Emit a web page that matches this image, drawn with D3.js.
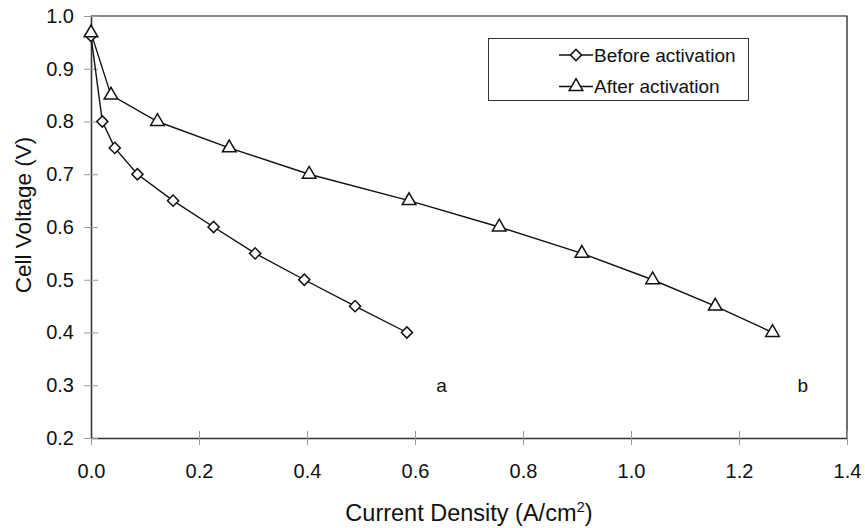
<!DOCTYPE html>
<html lang="en">
<head>
  <script src="https://d3js.org/d3.v7.min.js"></script>
  <style>
    body { margin: 0; background: #fff; }
    text { font-family: "Liberation Sans", Arial, sans-serif; fill: #111; }
  </style>
</head>
<body>
  <script>
    // data
    const beforeX = [0.0, 0.021, 0.044, 0.086, 0.152, 0.227, 0.304, 0.395, 0.489, 0.585];
    const beforeV = [0.962, 0.80, 0.75, 0.70, 0.65, 0.60, 0.55, 0.50, 0.45, 0.40];
    const afterX = [0.0, 0.037, 0.123, 0.256, 0.404, 0.589, 0.756, 0.909, 1.040, 1.156, 1.262];
    const afterV = [0.968, 0.85, 0.80, 0.75, 0.70, 0.65, 0.60, 0.55, 0.50, 0.45, 0.40];
    const xTicks = [0, 0.2, 0.4, 0.6, 0.8, 1.0, 1.2, 1.4];
    const yTicks = [0.2, 0.3, 0.4, 0.5, 0.6, 0.7, 0.8, 0.9, 1.0];
    const seriesNames = ["Before activation", "After activation"];
    const curveLabels = [{t: "a", x: 0.649, v: 0.30}, {t: "b", x: 1.318, v: 0.30}];

    const W = 865, H = 528;
    const pLeft = 91, pRight = 847, pTop = 16, pBottom = 438;

    const x = d3.scaleLinear().domain([0, 1.4]).range([pLeft, pRight]);
    const y = d3.scaleLinear().domain([0.2, 1.0]).range([pBottom, pTop]);

    const svg = d3.select("body").append("svg")
      .attr("width", W).attr("height", H);

    // frame top/right
    svg.append("path")
      .attr("d", `M${pLeft},${pTop}H${pRight}V${pBottom}`)
      .attr("fill", "none").attr("stroke", "#111").attr("stroke-width", 1.2);

    // x axis
    const gx = svg.append("g").attr("transform", `translate(0,${pBottom})`)
      .call(d3.axisBottom(x).tickValues(xTicks).tickFormat(d3.format(".1f"))
        .tickSizeInner(7).tickSizeOuter(0).tickPadding(19));
    gx.select(".domain").attr("stroke", "#333").attr("stroke-width", 1.6);
    gx.selectAll(".tick line").attr("stroke", "#999").attr("y1", -7);
    gx.selectAll(".tick text").attr("font-size", 20).attr("font-family", "Liberation Sans");

    // y axis
    const gy = svg.append("g").attr("transform", `translate(${pLeft},0)`)
      .call(d3.axisLeft(y).tickValues(yTicks).tickFormat(d3.format(".1f"))
        .tickSizeInner(7).tickSizeOuter(0).tickPadding(10));
    gy.select(".domain").attr("stroke", "#333").attr("stroke-width", 1.6);
    gy.selectAll(".tick line").attr("stroke", "#999").attr("x1", 7);
    gy.selectAll(".tick text").attr("font-size", 20).attr("font-family", "Liberation Sans");

    // axis titles
    const xt = svg.append("text").attr("x", (pLeft + pRight) / 2).attr("y", 521)
      .attr("text-anchor", "middle").attr("font-size", 23.5);
    xt.append("tspan").text("Current Density (A/cm");
    xt.append("tspan").text("2").attr("font-size", 15).attr("dy", -9);
    xt.append("tspan").text(")").attr("dy", 9);

    svg.append("text")
      .attr("transform", `translate(31,${(pTop + pBottom) / 2 - 12}) rotate(-90)`)
      .attr("text-anchor", "middle").attr("font-size", 22.5)
      .text("Cell Voltage (V)");

    const line = d3.line().x(d => x(d[0])).y(d => y(d[1]));
    const diamond = d3.symbol().type(d3.symbolSquare).size(62);
    const tri = d3.symbol().type(d3.symbolTriangle).size(80);

    const before = beforeX.map((d, i) => [d, beforeV[i]]);
    const after = afterX.map((d, i) => [d, afterV[i]]);

    [before, after].forEach(s => {
      svg.append("path").datum(s).attr("d", line)
        .attr("fill", "none").attr("stroke", "#111").attr("stroke-width", 1.4);
    });

    svg.append("g").selectAll("path").data(before).join("path")
      .attr("d", diamond)
      .attr("transform", d => `translate(${x(d[0])},${y(d[1])}) rotate(45)`)
      .attr("fill", "#fff").attr("stroke", "#111").attr("stroke-width", 1.5);

    svg.append("g").selectAll("path").data(after).join("path")
      .attr("d", tri)
      .attr("transform", d => `translate(${x(d[0])},${y(d[1])})`)
      .attr("fill", "#fff").attr("stroke", "#111").attr("stroke-width", 1.5);

    // curve labels
    svg.selectAll(".clab").data(curveLabels).join("text")
      .attr("x", d => x(d.x)).attr("y", d => y(d.v) + 7)
      .attr("text-anchor", "middle").attr("font-size", 19)
      .text(d => d.t);

    // legend
    const lg = svg.append("g");
    lg.append("rect").attr("x", 488.5).attr("y", 38.5).attr("width", 260).attr("height", 62)
      .attr("fill", "#fff").attr("stroke", "#333").attr("stroke-width", 1);
    seriesNames.forEach((name, i) => {
      const cy = 55 + i * 31.5;
      lg.append("line").attr("x1", 559).attr("x2", 593).attr("y1", cy).attr("y2", cy)
        .attr("stroke", "#111").attr("stroke-width", 1.4);
      lg.append("path").attr("d", i === 0 ? diamond : tri)
        .attr("transform", i === 0 ? `translate(576,${cy}) rotate(45)` : `translate(576,${cy})`)
        .attr("fill", "#fff").attr("stroke", "#111").attr("stroke-width", 1.5);
      lg.append("text").attr("x", 594).attr("y", cy + 6.5).attr("font-size", 19).text(name);
    });
  </script>
</body>
</html>
